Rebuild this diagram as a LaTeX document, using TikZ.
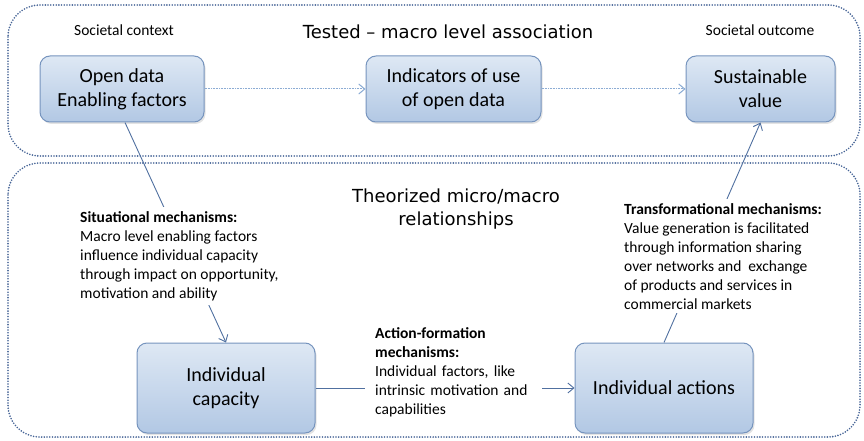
\documentclass[tikz,border=0pt]{standalone}
\usepackage{fontspec}
\setmainfont{Carlito}
\newfontfamily\vfont{DejaVu Sans}
\usetikzlibrary{arrows.meta,shadows}
\definecolor{boxtop}{RGB}{222,232,244}
\definecolor{boxbot}{RGB}{178,200,228}
\definecolor{boxline}{RGB}{118,148,190}
\definecolor{frame}{RGB}{70,100,150}
\definecolor{conn}{RGB}{80,112,160}
\definecolor{dotarr}{RGB}{140,172,212}
\tikzset{
  bluebox/.style={draw=boxline, line width=1pt, rounded corners=10pt,
    top color=boxtop, bottom color=boxbot, align=center,
    font=\fontsize{20}{24}\selectfont, inner sep=0pt,
    drop shadow={opacity=0.22, shadow xshift=1.5pt, shadow yshift=-2pt}},
  dotframe/.style={draw=frame, line width=1.8pt, dash pattern=on 0pt off 2.7pt,
    line cap=round, rounded corners=32pt},
  conline/.style={draw=conn, line width=0.9pt, -{Straight Barb[length=6pt,width=10pt]}},
  dotline/.style={draw=dotarr, line width=1pt, dash pattern=on 0.8pt off 0.8pt,
    -{Straight Barb[length=6pt,width=10pt,line width=1pt]}},
  smalltxt/.style={font=\fontsize{15.5}{19}\selectfont, align=left, inner sep=0pt},
  headtxt/.style={font=\vfont\fontsize{18}{23}\selectfont, align=center, inner sep=0pt},
  mask/.style={fill=white}
}
\begin{document}
\begin{tikzpicture}[x=1pt,y=-1pt]
\useasboundingbox (0,0) rectangle (864,441);
% frames
\draw[dotframe] (8,5) rectangle (860,156);
\draw[dotframe] (8,163) rectangle (860,437);
% headings
\node[smalltxt] (sc) at (124,30) {Societal context};
\node[smalltxt] (so) at (760,30) {Societal outcome};
\node[headtxt] (tested) at (448,32) {Tested – macro level association};
\node[headtxt] (theor) at (456,209) {Theorized micro/macro\\relationships};
% boxes
\node[bluebox, minimum width=164pt, minimum height=66pt] (od) at (122,89) {Open data\\Enabling factors};
\node[bluebox, minimum width=175pt, minimum height=66pt] (ind) at (453.5,89) {Indicators of use\\of open data};
\node[bluebox, minimum width=149pt, minimum height=66pt] (sv) at (760.5,89) {Sustainable\\value};
\node[bluebox, minimum width=178pt, minimum height=90pt] (ic) at (226,388) {Individual\\capacity};
\node[bluebox, minimum width=178pt, minimum height=90pt] (ia) at (664,388) {Individual actions};
% dotted arrows
\draw[dotline] (od.east) -- (ind.west);
\draw[dotline] (ind.east) -- (sv.west);
% connectors
\coordinate (odb) at ([xshift=3pt]od.south);
\draw[conline] (odb) -- (ic.north);
\draw[conline] (ic.east) -- (ia.west);
\draw[conline] (ia.north) -- (sv.south);
% mechanism texts (white masks over connectors)
\node[smalltxt, mask, anchor=north west, inner xsep=4pt, inner ysep=4pt] (sit) at (76,207)
  {\textbf{Situational mechanisms:}\\Macro level enabling factors\\influence individual capacity\\through impact on opportunity,\\motivation and ability};
\node[smalltxt, mask, anchor=north west, text width=157pt, inner xsep=10pt, inner ysep=3pt] (act) at (365,324)
  {\textbf{Action-formation}\\\textbf{mechanisms:}\\Individual factors, like\\intrinsic motivation and\\capabilities};
\node[smalltxt, mask, anchor=north west, inner xsep=4pt, inner ysep=4pt] (tra) at (620,199)
  {\textbf{Transformational mechanisms:}\\Value generation is facilitated\\through information sharing\\over networks and~ exchange\\of products and services in\\commercial markets};
\end{tikzpicture}
\end{document}
